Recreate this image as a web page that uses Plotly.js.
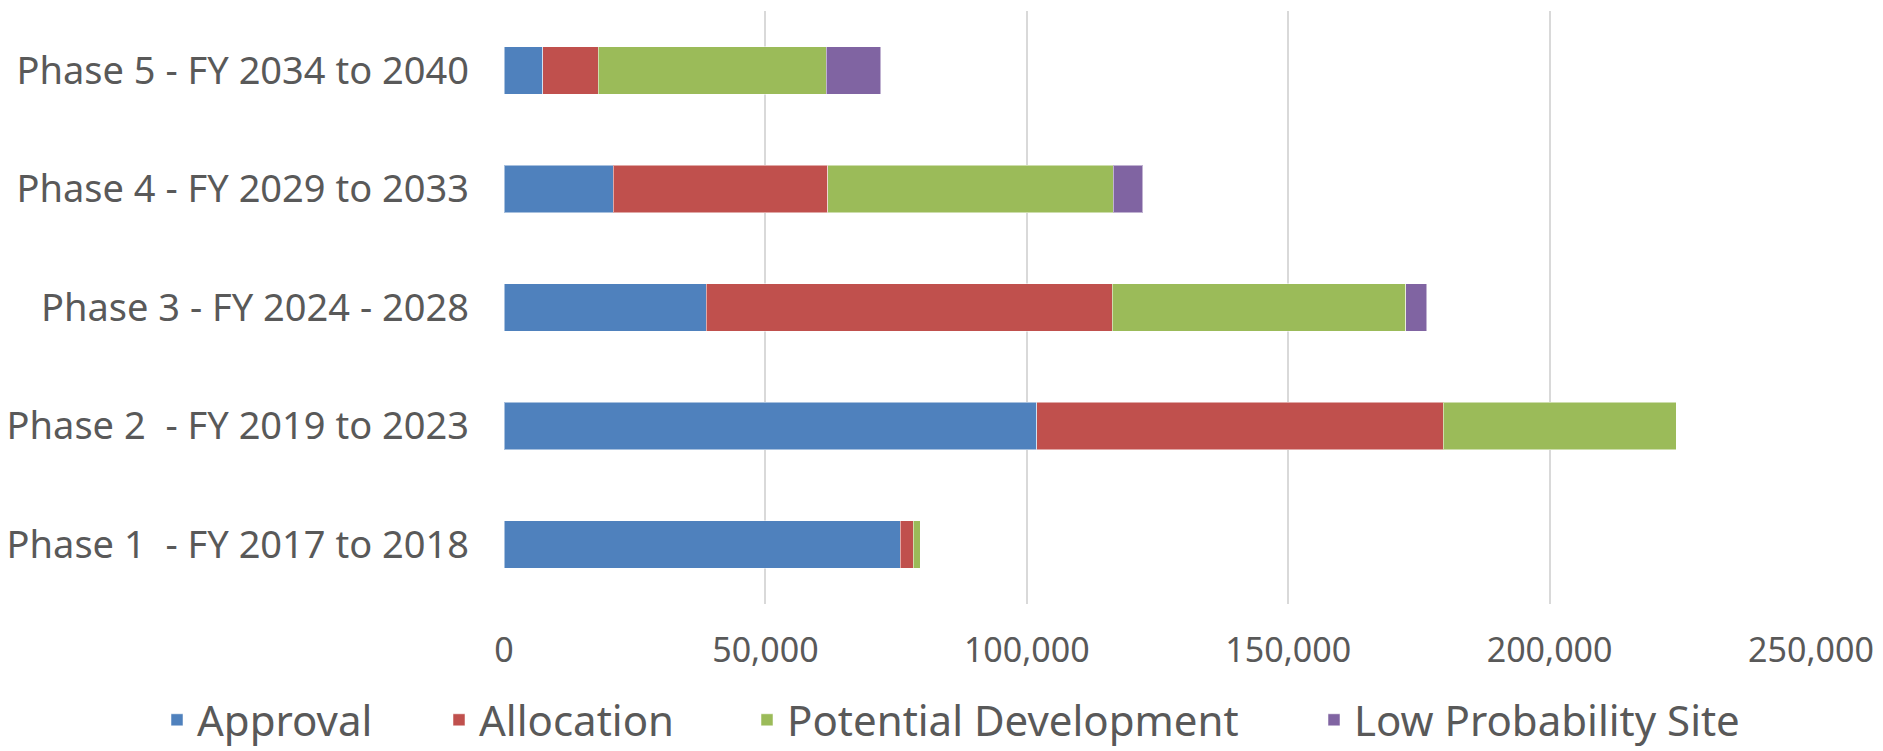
<!DOCTYPE html>
<html>
<head>
<meta charset="utf-8">
<script src="https://cdn.plot.ly/plotly-3.0.1.min.js"></script>
<style>html,body{margin:0;padding:0;background:#fff;}#chart{width:1883px;height:751px;}</style>
</head>
<body>
<div id="chart"></div>
<script>
const categories = [
  "Phase 1 \u00a0- FY 2017 to 2018",
  "Phase 2 \u00a0- FY 2019 to 2023",
  "Phase 3 - FY 2024 - 2028",
  "Phase 4 - FY 2029 to 2033",
  "Phase 5 - FY 2034 to 2040"
];
const approval = [75820, 101870, 38640, 20850, 7440];
const allocation = [2490, 77740, 77740, 41070, 10590];
const potentialDevelopment = [1320, 44570, 56060, 54570, 43640];
const lowProbabilitySite = [0, 0, 4100, 5720, 10410];
const xTickValues = [0, 50000, 100000, 150000, 200000, 250000];

const seriesNames = ["Approval", "Allocation", "Potential Development", "Low Probability Site"];
const seriesValues = [approval, allocation, potentialDevelopment, lowProbabilitySite];
const seriesColors = ["#4F81BD", "#C0504D", "#9BBB59", "#8064A2"];
const legendIds = ["legend", "legend2", "legend3", "legend4"];
const legendLeft = [157, 439, 747, 1314];

const FONT = "Noto Sans, Open Sans, sans-serif";
const data = seriesNames.map((name, i) => ({
  type: "bar",
  orientation: "h",
  name: name,
  y: categories,
  x: seriesValues[i],
  legend: legendIds[i],
  marker: {color: seriesColors[i], line: {color: "rgba(255,255,255,0.5)", width: 1}},
  hoverinfo: "x+name"
}));

const layout = {
  width: 1883,
  height: 751,
  barmode: "stack",
  bargap: 0.6,
  paper_bgcolor: "#ffffff",
  plot_bgcolor: "#ffffff",
  margin: {l: 504, r: 72, t: 11, b: 147},
  font: {family: FONT, color: "#595959"},
  xaxis: {
    range: [0, 250000],
    tickvals: xTickValues,
    tickformat: ",",
    showgrid: true,
    gridcolor: "#D9D9D9",
    gridwidth: 2,
    zeroline: false,
    showline: false,
    ticks: "",
    ticklabelstandoff: 23,
    tickfont: {family: FONT, size: 34, color: "#595959"}
  },
  yaxis: {
    type: "category",
    showgrid: false,
    zeroline: false,
    showline: false,
    ticks: "",
    ticklabelstandoff: 34,
    tickfont: {family: FONT, size: 38, color: "#595959"}
  },
  showlegend: true
};
legendIds.forEach((id, i) => {
  layout[id] = {
    orientation: "h",
    xref: "container",
    yref: "container",
    x: legendLeft[i] / 1883,
    xanchor: "left",
    y: 1 - 720 / 751,
    yanchor: "middle",
    borderwidth: 0,
    bgcolor: "rgba(0,0,0,0)",
    font: {family: FONT, size: 42, color: "#595959"},
    itemwidth: 30
  };
});

Plotly.newPlot("chart", data, layout, {displayModeBar: false, staticPlot: true});
</script>
</body>
</html>
